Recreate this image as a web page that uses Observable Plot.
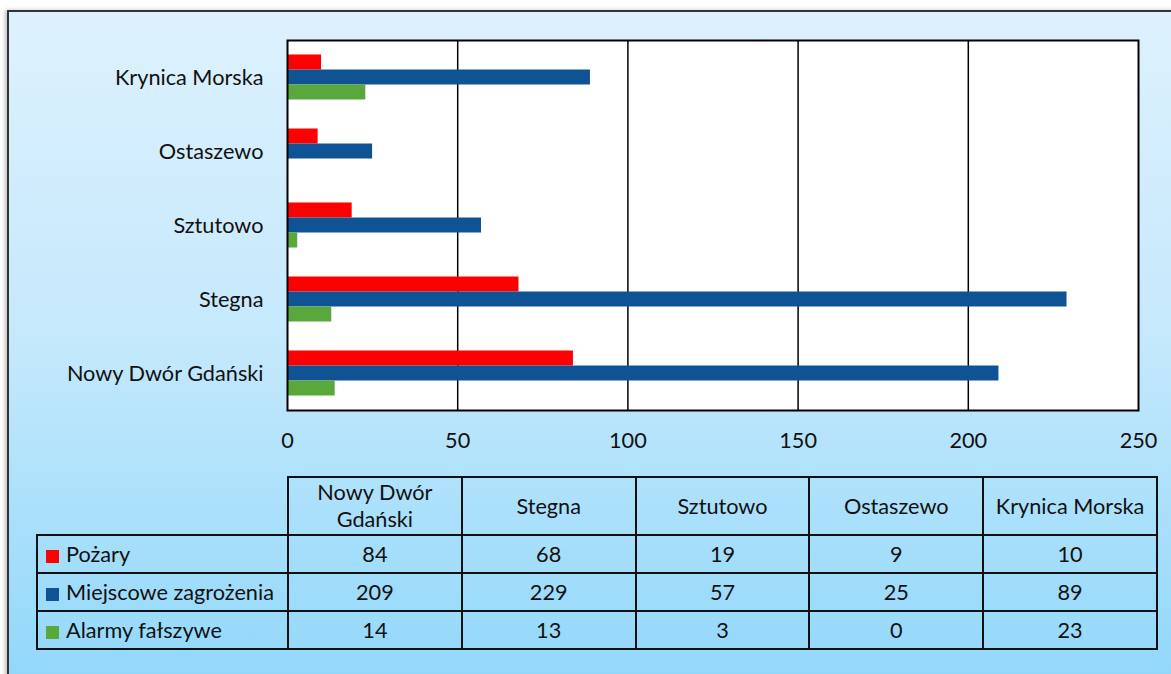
<!DOCTYPE html>
<html>
<head>
<meta charset="utf-8">
<script src="https://cdn.jsdelivr.net/npm/d3@7"></script>
<script src="https://cdn.jsdelivr.net/npm/@observablehq/plot@0.6"></script>
<style>
  html, body { margin: 0; padding: 0; background: #fff; }
  #page { position: relative; width: 1171px; height: 674px; overflow: hidden; font-family: Lato, "Noto Sans", sans-serif; color: #111; }
  #box { position: absolute; left: 7px; top: 10px; width: 1200px; height: 700px; border: 2px solid #333;
         background: linear-gradient(to bottom, #ddf1fd 0%, #c6e9fc 45%, #8dd6fa 100%);
         box-shadow: -2px 0 4px rgba(0,0,0,0.25); }
  #chart { position: absolute; left: 0; top: 0; }
  #tbl { position: absolute; left: 36px; top: 476px; border-collapse: collapse; table-layout: fixed; font-size: 21.7px; }
  #tbl td { border: 2px solid #111; text-align: center; padding: 0; }
  #tbl tr.head td { height: 56px; line-height: 27px; white-space: pre-line; }
  #tbl tr.body td { height: 36px; }
  #tbl td.blank { border: none; }
  #tbl td.lab { text-align: left; padding-left: 8px; white-space: nowrap; }
  .sw { display: inline-block; width: 13px; height: 13px; margin-right: 7px; vertical-align: -1px; }
</style>
</head>
<body>
<div id="page">
  <div id="box"></div>
  <div id="chart"></div>
  <table id="tbl"></table>
</div>
<script>
const categories = ["Nowy Dwór Gdański", "Stegna", "Sztutowo", "Ostaszewo", "Krynica Morska"];
const tableHeaders = ["Nowy Dwór\nGdański", "Stegna", "Sztutowo", "Ostaszewo", "Krynica Morska"];
const seriesNames = ["Pożary", "Miejscowe zagrożenia", "Alarmy fałszywe"];
const pozary = [84, 68, 19, 9, 10];
const miejscowe = [209, 229, 57, 25, 89];
const alarmy = [14, 13, 3, 0, 23];
const seriesValues = [pozary, miejscowe, alarmy];
const seriesColors = ["#ff0000", "#0f5395", "#58a83b"];
const xTicks = [0, 50, 100, 150, 200, 250];
const gridTicks = [50, 100, 150, 200];

const insets = [[14.5, 44.5], [29.5, 29.5], [44.5, 14.5]];

const barMarks = seriesValues.map((vals, i) =>
  Plot.barX(categories.map((c, j) => ({cat: c, value: vals[j]})), {
    y: "cat", x: "value", fill: seriesColors[i],
    insetTop: insets[i][0], insetBottom: insets[i][1]
  })
);

const chart = Plot.plot({
  width: 1171,
  height: 460,
  marginLeft: 287,
  marginRight: 33,
  marginTop: 40,
  marginBottom: 50,
  style: {background: "transparent", fontFamily: "Lato, 'Noto Sans', sans-serif", fontSize: "21.7px", color: "#111"},
  x: {domain: [0, 250]},
  y: {domain: categories.slice().reverse(), padding: 0},
  marks: [
    Plot.frame({fill: "white", stroke: "none"}),
    Plot.gridX(gridTicks, {stroke: "#000", strokeOpacity: 1, strokeWidth: 1.5}),
    ...barMarks,
    Plot.frame({stroke: "#000", strokeWidth: 2}),
    Plot.axisX(xTicks, {tickSize: 0, tickPadding: 22, label: null, fontSize: 21.7}),
    Plot.axisY({tickSize: 0, tickPadding: 24, label: null, fontSize: 21.7, dy: 1})
  ]
});
document.getElementById("chart").appendChild(chart);

// data table
const tbl = d3.select("#tbl");
const cg = tbl.append("colgroup");
cg.append("col").style("width", "251px");
categories.forEach(() => cg.append("col").style("width", "173.8px"));
const head = tbl.append("tr").attr("class", "head");
head.append("td").attr("class", "blank");
tableHeaders.forEach(h => head.append("td").text(h));
seriesNames.forEach((name, i) => {
  const tr = tbl.append("tr").attr("class", "body");
  const lab = tr.append("td").attr("class", "lab");
  lab.append("span").attr("class", "sw").style("background", seriesColors[i]);
  lab.append("span").text(name);
  seriesValues[i].forEach(v => tr.append("td").text(v));
});
</script>
</body>
</html>
